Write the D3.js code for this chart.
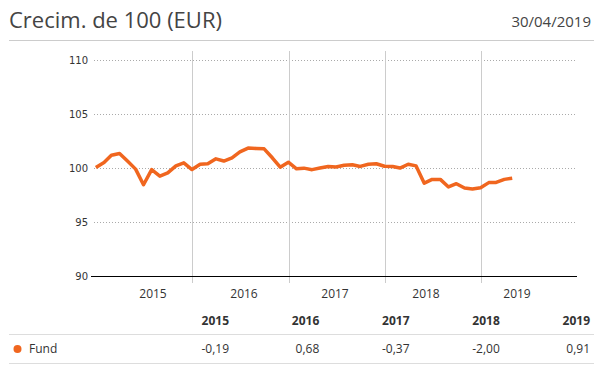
<!DOCTYPE html>
<html>
<head>
<meta charset="utf-8">
<script src="https://cdn.jsdelivr.net/npm/d3@7"></script>
<style>
  body { margin: 0; background: #fff; }
  text { font-family: "Open Sans", sans-serif; }
</style>
</head>
<body>
<div id="chart"></div>
<script>
// month-end values, starting 31/12/2014, ending 30/04/2019
var fundValues = [
    100.00, 100.46, 101.14, 101.30, 100.60, 99.85, 98.40, 99.80, 99.20, 99.50, 100.15, 100.43,
    99.81, 100.30, 100.34, 100.80, 100.60, 100.90, 101.45, 101.80, 101.76, 101.73, 100.90, 100.03,
    100.49, 99.88, 99.94, 99.80, 99.95, 100.10, 100.05, 100.20, 100.25, 100.10, 100.30, 100.35,
    100.12, 100.10, 99.95, 100.30, 100.15, 98.55, 98.90, 98.90, 98.20, 98.50, 98.10, 98.00,
    98.12, 98.60, 98.62, 98.90, 99.01
];
var yTicks = [90, 95, 100, 105, 110];
var yearLabels = ["2015", "2016", "2017", "2018", "2019"];
var yearReturns = ["-0,19", "0,68", "-0,37", "-2,00", "0,91"];
var seriesName = "Fund";
var titleText = "Crecim. de 100 (EUR)";
var dateText = "30/04/2019";

var orange = "#f0661f";

var data = fundValues.map(function (v, i) {
    // last day of each month
    return { date: new Date(2015, i, 0), value: v };
});

var svg = d3.select("#chart").append("svg")
    .attr("width", 605)
    .attr("height", 384);

// header
svg.append("text")
    .attr("x", 9).attr("y", 28)
    .style("font-size", "22px")
    .attr("fill", "#444")
    .text(titleText);
svg.append("text")
    .attr("x", 591).attr("y", 27)
    .attr("text-anchor", "end")
    .style("font-size", "15px")
    .attr("fill", "#444")
    .text(dateText);
svg.append("line")
    .attr("x1", 9).attr("x2", 594)
    .attr("y1", 40.5).attr("y2", 40.5)
    .attr("stroke", "#ccc");

var x = d3.scaleTime()
    .domain([new Date(2014, 11, 24), new Date(2020, 0, 1)])
    .range([94, 577]);
var y = d3.scaleLinear()
    .domain([90, 110])
    .range([275.5, 59.5]);

// horizontal dotted grid
svg.append("g").selectAll("line")
    .data(yTicks.filter(function (t) { return t > 90; }))
    .join("line")
    .attr("x1", 94).attr("x2", 577)
    .attr("y1", function (d) { return Math.round(y(d)) + 0.5; })
    .attr("y2", function (d) { return Math.round(y(d)) + 0.5; })
    .attr("stroke", "#aaa")
    .attr("stroke-dasharray", "1,2");

// year boundaries
var yearStarts = [2016, 2017, 2018, 2019].map(function (yr) { return new Date(yr, 0, 1); });
svg.append("g").selectAll("line")
    .data(yearStarts)
    .join("line")
    .attr("x1", function (d) { return Math.round(x(d)) + 0.5; })
    .attr("x2", function (d) { return Math.round(x(d)) + 0.5; })
    .attr("y1", 51).attr("y2", 283)
    .attr("stroke", "#ccc");

// baseline
svg.append("line")
    .attr("x1", 91).attr("x2", 577)
    .attr("y1", Math.round(y(90)) + 0.5).attr("y2", Math.round(y(90)) + 0.5)
    .attr("stroke", "#000");

// y labels
svg.append("g").selectAll("text")
    .data(yTicks)
    .join("text")
    .attr("x", 88)
    .attr("y", function (d) { return y(d) + 4; })
    .attr("text-anchor", "end")
    .style("font-family", "'DejaVu Sans', Verdana, sans-serif")
    .style("font-size", "10px")
    .attr("fill", "#333")
    .text(function (d) { return d; });

// x labels
var xl = d3.scalePoint().domain(yearLabels).range([153, 517]);
svg.append("g").selectAll("text")
    .data(yearLabels)
    .join("text")
    .attr("x", function (d) { return xl(d); })
    .attr("y", 298)
    .attr("text-anchor", "middle")
    .style("font-size", "12px")
    .attr("fill", "#333")
    .text(function (d) { return d; });

// the line
var line = d3.line()
    .x(function (d) { return x(d.date); })
    .y(function (d) { return y(d.value); });
svg.append("path")
    .datum(data)
    .attr("d", line)
    .attr("fill", "none")
    .attr("stroke", orange)
    .attr("stroke-width", 3.5)
    .attr("stroke-linejoin", "round");

// table
var colRight = d3.scalePoint().domain(yearLabels).range([229, 590]);
svg.append("g").selectAll("text")
    .data(yearLabels)
    .join("text")
    .attr("x", function (d) { return colRight(d); })
    .attr("y", 325)
    .attr("text-anchor", "end")
    .style("font-size", "12px")
    .style("font-weight", "bold")
    .attr("fill", "#333")
    .text(function (d) { return d; });

[334.5, 363.5].forEach(function (yy) {
    svg.append("line")
        .attr("x1", 9).attr("x2", 594)
        .attr("y1", yy).attr("y2", yy)
        .attr("stroke", "#ddd");
});

svg.append("circle")
    .attr("cx", 17.5).attr("cy", 349)
    .attr("r", 4)
    .attr("fill", orange);
svg.append("text")
    .attr("x", 29).attr("y", 353)
    .style("font-size", "12px")
    .attr("fill", "#333")
    .text(seriesName);

svg.append("g").selectAll("text")
    .data(yearReturns)
    .join("text")
    .attr("x", function (d, i) { return colRight(yearLabels[i]); })
    .attr("y", 353)
    .attr("text-anchor", "end")
    .style("font-size", "12px")
    .attr("fill", "#333")
    .text(function (d) { return d; });
</script>
</body>
</html>
